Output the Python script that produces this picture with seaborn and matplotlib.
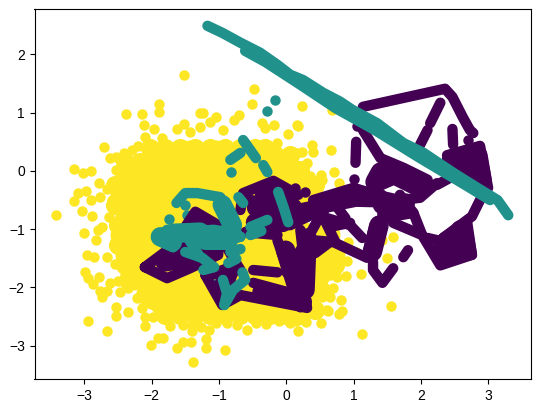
import matplotlib
matplotlib.use("Agg")
from matplotlib import pyplot as plt
import seaborn as sns
import pandas as pd

# colours of the three classes (viridis 0, 0.5, 1)
YELLOW = "#fde725"
TEAL = "#21918c"
PURPLE = "#440154"

# scattered yellow points
yellow_x = [-1.89, -1.89, -2.38, -2.15, -2.12, -1.96, -1.62, -1.52, -1.28, -1.52, -2.70, -3.15, -3.02, -2.90, -2.78,
            -2.97, -3.09, -3.16, -3.03, -3.42, -2.88, -2.90, -2.76, -2.62, -2.53, -2.41, -2.29, -2.20, -2.10, -1.84,
            -1.83, -1.63, -2.53, -2.66, -2.59, -2.63, -2.73, -1.43, -3.00, -2.79, -2.82, -2.96, -2.85, -2.67, -2.54,
            -2.99, -2.94, -2.78, -2.87, -2.62, -2.50, -2.76, -2.66, -2.73, -2.47, -2.35, -2.21, -2.53, -2.14, -2.35,
            -2.53, -2.94, -2.10, -1.98, -2.10, -2.67, -1.72, -1.53, -1.40, -1.40, -1.90, -1.83, -2.01, -1.63, -1.53,
            -1.41, -1.38, -1.19, -1.19, -0.91, -1.26, -1.14, -1.04, -0.88, -0.73, -0.58, -0.45, -0.30, -0.10, 0.06,
            0.15, 0.18, 0.30, 0.52, 0.61, -1.23, -1.04, -1.13, -0.70, -0.77, -0.51, -0.48, -0.36, -0.18, -0.31,
            0.16, 0.03, -1.28, -0.94, -0.13, -0.24, 0.04, 0.16, 0.01, 0.13, -0.04, 0.24, 0.68, 0.18, 0.39,
            0.40, 0.67, 0.24, 0.31, 0.13, 0.71, 0.51, 0.53, 0.36, 0.79, 0.24, -0.01, 1.43, 1.59, 1.50,
            1.11, 0.91, 0.92, 1.03, 0.89, 0.76, 0.55, 0.65, 0.70, 0.82, 0.65, 0.53, 0.40, 1.56, 0.83,
            0.79, 0.62, 1.13, 0.33, 0.68, 0.68, 0.40, 0.39, 0.51]
yellow_y = [1.15, 1.01, 0.98, 0.98, 0.79, 0.72, 0.72, 0.81, 1.00, 1.65, 0.41, 0.03, -0.03, 0.00, -0.21,
            -0.34, -0.38, -0.52, -0.69, -0.76, -0.77, -0.50, -0.45, 0.22, 0.24, 0.31, 0.36, 0.43, 0.58, 0.57,
            0.33, 0.31, 0.02, -0.31, -0.50, -0.79, -0.96, 0.67, -1.07, -1.01, -1.19, -1.44, -1.48, -1.48, -1.60,
            -1.74, -1.84, -1.82, -1.94, -1.92, -1.89, -2.06, -2.06, -2.16, -2.08, -2.01, -2.18, -2.34, -2.35, -2.42,
            -2.49, -2.58, -2.51, -2.51, -2.66, -2.75, -2.66, -2.65, -2.65, -2.75, -2.87, -2.87, -2.99, -3.04, -2.94,
            -2.94, -3.28, -2.89, -3.04, -3.08, -2.68, -2.73, -2.61, -2.61, -2.65, -2.73, -2.61, -2.63, -2.58, -2.61,
            -2.58, -2.75, -2.59, -2.61, -2.39, 1.00, 0.93, 0.84, 0.96, 0.88, 1.15, 1.41, 0.82, 0.79, 0.74,
            0.79, 0.64, 0.76, 0.70, 0.48, 0.41, 0.33, 0.31, 0.22, 0.10, 0.10, 1.12, 1.05, 0.77, 0.45,
            0.33, 0.36, 0.33, 0.14, -0.02, -0.02, -0.07, -0.15, -0.09, -0.21, -0.19, -0.12, -1.19, -1.13, -1.49,
            -1.77, -1.55, -1.22, -1.39, -1.80, -1.82, -1.86, -1.79, -2.01, -2.22, -2.16, -2.16, -2.18, -2.32, -2.41,
            -2.46, -2.41, -2.80, -2.44, -1.49, -1.36, -1.82, -2.01, -1.62]

# middle of the yellow cloud, where single points can't be told apart
core_x = [-1.80, -1.43, -1.05, -0.68, -0.36,
          -2.32, -1.95, -1.58, -1.20, -0.83, -0.46, -0.09,
          -2.39, -2.02, -1.65, -1.28, -0.91, -0.53, -0.16, 0.21,
          -2.32, -1.95, -1.58, -1.20, -0.83, -0.46, -0.09,
          -2.39, -2.02, -1.65, -1.28, -0.91, -0.53, -0.16, 0.21, 0.58,
          -2.32, -1.95, -1.58, -1.20, -0.83, -0.46, -0.09, 0.28, 0.65,
          -2.24, -1.87, -1.50, -1.13, -0.76, -0.39, -0.02, 0.35,
          -1.95, -1.58, -1.20, -0.83, -0.46, -0.09, 0.28,
          -1.72, -1.35, -0.98, -0.61, -0.24, 0.13]
core_y = [0.27, 0.27, 0.27, 0.27, 0.27,
          -0.07, -0.07, -0.07, -0.07, -0.07, -0.07, -0.07,
          -0.41, -0.41, -0.41, -0.41, -0.41, -0.41, -0.41, -0.41,
          -0.76, -0.76, -0.76, -0.76, -0.76, -0.76, -0.76,
          -1.10, -1.10, -1.10, -1.10, -1.10, -1.10, -1.10, -1.10, -1.10,
          -1.44, -1.44, -1.44, -1.44, -1.44, -1.44, -1.44, -1.44, -1.44,
          -1.79, -1.79, -1.79, -1.79, -1.79, -1.79, -1.79, -1.79,
          -2.13, -2.13, -2.13, -2.13, -2.13, -2.13, -2.13,
          -2.27, -2.27, -2.27, -2.27, -2.27, -2.27]

# edge of the yellow cloud, still too crowded for single points
fringe_x = [-2.02, -1.80, -1.58, -1.35, -1.13, -0.91, -0.68, -0.46, -0.31,
            -2.39, -2.17, -2.02, -0.16, 0.06, 0.06, 0.21, 0.21, 0.43,
            -2.54, -2.54, -2.50, -2.50, -2.39, -2.35, -2.10, -1.87,
            -1.80, -1.58, -1.35, -1.13, -0.91, -0.68, -0.46, -0.24, -0.01, 0.21,
            0.73, 0.51, 0.51, 0.73, 0.43, 0.65]
fringe_y = [0.40, 0.40, 0.40, 0.40, 0.40, 0.40, 0.40, 0.40, 0.40,
            0.15, 0.15, 0.15, 0.27, 0.27, 0.02, 0.02, -0.24, -0.24,
            -0.24, -0.58, -0.93, -1.27, -1.62, -1.87, -2.13, -2.30,
            -2.47, -2.47, -2.47, -2.47, -2.47, -2.47, -2.47, -2.47, -2.47, -2.47,
            -1.62, -2.04, -1.79, -1.44, -2.39, -1.62]

# purple: lone points plus the unbroken trails
purple_dots = [(1.05, 0.77), (1.01, -0.14), (0.13, -0.29), (0.28, -0.36), (2.70, 0.53)]
purple_trails = [
    [(1.14, 1.10), (2.36, 1.41), (2.47, 1.27), (2.62, 0.93), (2.73, 0.70), (2.78, 0.65)],
    [(2.29, 1.17), (2.14, 0.82)],
    [(2.10, 0.70), (1.99, 0.45)],
    [(2.47, 0.72), (2.48, 0.45)],
    [(1.04, 0.50), (1.03, 0.14)],
    [(1.14, 0.70), (1.40, 0.22), (1.75, 0.05), (2.10, -0.15), (1.95, -0.35), (1.60, -0.15), (1.30, -0.30)],
    [(2.39, 0.27), (2.88, 0.43), (3.00, -0.29), (2.66, -0.02), (2.39, 0.19), (2.85, 0.19), (2.91, -0.12)],
    [(2.24, -0.24), (2.51, -0.07)],
    [(0.40, -0.50), (1.00, -0.29), (1.35, -0.41), (1.69, -0.50), (1.99, -0.46), (2.24, -0.21)],
    [(0.28, -0.67), (0.65, -0.50), (1.03, -0.46)],
    [(0.55, -0.79), (0.95, -0.93), (1.13, -1.15)],
    [(0.73, -0.58), (0.88, -0.81)],
    [(1.43, -0.50), (1.43, -0.84), (1.25, -1.48)],
    [(1.31, -0.93), (1.22, -1.36)],
    [(1.20, -1.49), (0.70, -1.22), (0.40, -1.19)],
    [(1.29, -1.56), (1.29, -1.70), (1.43, -1.92), (1.59, -1.67)],
    [(1.74, -1.48), (1.81, -1.36)],
    [(1.59, -0.89), (2.02, -1.10), (2.29, -1.62), (2.76, -1.44), (2.69, -0.89), (2.33, -1.15)],
    [(1.44, -0.81), (1.89, -0.72), (2.02, -1.10)],
    [(1.69, -0.41), (1.89, -0.72)],
    [(2.10, -1.15), (2.66, -1.30), (2.44, -1.49), (2.76, -1.44), (2.70, -1.05)],
    [(2.33, -1.15), (2.76, -0.78), (2.88, -0.50)],
    [(-2.10, -1.65), (-1.80, -1.39), (-1.58, -1.10), (-1.35, -0.70), (-1.01, -0.93), (-1.01, -1.44), (-1.43, -1.67),
     (-1.77, -1.84), (-2.10, -1.65)],
    [(-1.80, -1.62), (-1.28, -1.56), (-1.05, -1.27), (-1.35, -1.10), (-1.72, -1.49)],
    [(-1.20, -1.79), (-0.95, -2.30), (-0.68, -2.13), (0.31, -2.35), (0.28, -2.16), (-0.49, -1.92)],
    [(-1.20, -1.79), (-0.68, -1.70), (-0.95, -1.19)],
    [(-0.83, -1.87), (-0.95, -1.70)],
    [(-0.49, -1.70), (-0.13, -1.74)],
    [(-0.13, -1.19), (0.21, -2.34)],
    [(0.21, -1.65), (0.24, -2.22)],
    [(0.01, -1.75), (0.36, -1.07), (0.61, -0.55)],
    [(0.31, -0.79), (0.65, -0.45)],
    [(-0.68, -0.67), (-0.64, -0.38), (-0.19, -0.17), (0.18, -0.41)],
    [(-0.53, -0.50), (-0.09, -0.58), (-0.31, -0.93), (-0.61, -1.05), (-0.13, -1.10)],
    [(-0.19, -0.93), (0.06, -0.93), (0.31, -0.79)],
    [(0.21, -1.01), (0.25, -1.41)],
    [(0.43, -1.41), (0.65, -1.22)],
    [(0.55, -0.79), (0.73, -1.22)],
    [(0.65, -0.96), (0.95, -0.89)],
]
# places where many purple trails lie side by side
purple_bands = [
    [(-1.80, -1.56), (-1.20, -1.44)],
    [(-1.32, -0.93), (-1.17, -1.36)],
    [(-0.95, -2.04), (-0.86, -1.74)],
    [(-0.36, -2.08), (0.24, -2.25)],
    [(-0.01, -1.36), (0.21, -2.18)],
    [(0.31, -1.15), (0.28, -2.04)],
    [(-0.45, -0.62), (0.09, -0.62)],
    [(-0.33, -0.41), (-0.01, -0.41)],
    [(-0.46, -0.88), (-0.06, -0.88)],
    [(0.10, -0.75), (0.50, -0.65)],
    [(0.51, -0.57), (1.03, -0.45), (1.37, -0.46)],
    [(1.58, -0.02), (2.07, -0.26)],
    [(1.40, -0.02), (1.32, -0.19)],
    [(1.77, -0.55), (1.43, -0.58)],
    [(2.32, -1.36), (2.66, -1.24)],
    [(2.59, -1.01), (2.63, -1.32)],
    [(2.54, 0.19), (2.85, 0.26), (2.91, -0.15)],
    [(2.66, 0.02), (2.85, -0.02)],
    [(1.38, -0.93), (1.28, -1.39)],
]

# teal: the long diagonal and the cluster around (-1, -1)
teal_dots = [(-0.16, 1.22), (-0.28, 1.03), (-0.82, -0.02), (-1.50, -0.58), (-1.74, -0.82), (-1.47, -0.76),
             (-0.40, -0.60), (-0.18, -0.72), (-1.08, -1.94)]
teal_trails = [
    [(-1.17, 2.49), (-0.95, 2.37), (-0.68, 2.20), (-0.39, 2.03), (-0.13, 1.82), (0.06, 1.65), (0.25, 1.56), (0.55, 1.34),
     (0.80, 1.19), (0.98, 1.05), (1.35, 0.82), (1.74, 0.48), (2.04, 0.31), (2.48, -0.03), (2.84, -0.29), (3.14, -0.50),
     (3.30, -0.76)],
    [(-0.61, 2.06), (-0.31, 1.87), (0.21, 1.48), (0.73, 1.08), (1.32, 0.70), (1.99, 0.22), (2.66, -0.24), (3.03, -0.50)],
    [(-0.64, 0.53), (-0.45, 0.22)],
    [(-0.34, 0.10), (-0.28, -0.02)],
    [(-0.83, 0.19), (-0.68, 0.31)],
    [(-1.63, -0.55), (-1.50, -0.38), (-1.32, -0.38), (-0.98, -0.45), (-0.88, -0.62), (-0.83, -0.89)],
    [(-0.71, -0.45), (-0.64, -0.55)],
    [(-1.87, -1.13), (-1.77, -1.01), (-1.68, -1.31), (-1.87, -1.20)],
    [(-1.55, -1.05), (-1.08, -1.01), (-0.73, -1.07)],
    [(-1.50, -1.39), (-1.25, -1.49), (-1.08, -1.65)],
    [(-1.46, -1.15), (-1.28, -1.48)],
    [(-1.17, -1.27), (-0.68, -1.13)],
    [(-1.23, -1.70), (-1.07, -1.65)],
    [(-0.83, -1.39), (-0.68, -1.34)],
    [(-0.86, -1.58), (-0.74, -1.51)],
    [(-0.53, -0.96), (-0.28, -0.84)],
    [(-0.53, -1.10), (-0.37, -1.03)],
    [(-0.12, -0.36), (-0.04, -0.62), (0.03, -0.88)],
    [(-0.65, -1.74), (-0.61, -1.87), (-0.79, -2.04), (-0.92, -2.30)],
    [(-0.94, -1.87), (-0.88, -2.10), (-0.92, -2.30)],
    [(-0.91, -0.76), (-0.76, -0.93), (-0.83, -1.19), (-1.05, -1.19), (-0.68, -1.13)],
]
teal_bands = [
    [(-0.95, -0.58), (-0.80, -0.93), (-0.86, -1.19), (-1.20, -1.19)],
    [(-1.87, -1.13), (-1.69, -1.22)],
    [(-1.69, -1.07), (-1.28, -1.05)],
]

x_ticks = [-3, -2, -1, 0, 1, 2, 3]
y_ticks = [-3, -2, -1, 0, 1, 2]


def draw_trails(ax, trails, color, width=7.5):
    rows = [(i, x, y) for i, trail in enumerate(trails) for x, y in trail]
    df = pd.DataFrame(rows, columns=["trail", "x", "y"])
    sns.lineplot(data=df, x="x", y="y", units="trail", estimator=None, sort=False, ax=ax, color=color,
                 linewidth=width, solid_capstyle="round", solid_joinstyle="round", legend=False)


def draw_dots(ax, xs, ys, color, size=36):
    sns.scatterplot(x=xs, y=ys, ax=ax, color=color, s=size, linewidth=1.5, edgecolor=color, legend=False)


plt.rcParams["font.family"] = ["Liberation Sans", "DejaVu Sans"]

fig, ax = plt.subplots(figsize=(5.39, 4.11), dpi=100)
fig.subplots_adjust(left=34.5 / 539, right=530.5 / 539, top=1 - 9.5 / 411, bottom=1 - 379 / 411)

draw_dots(ax, core_x, core_y, YELLOW, size=400)
draw_dots(ax, fringe_x, fringe_y, YELLOW, size=150)
draw_dots(ax, yellow_x, yellow_y, YELLOW)
draw_trails(ax, purple_trails, PURPLE)
draw_trails(ax, purple_bands, PURPLE, width=14)
draw_dots(ax, [p[0] for p in purple_dots], [p[1] for p in purple_dots], PURPLE)
draw_trails(ax, teal_trails, TEAL)
draw_trails(ax, teal_bands, TEAL, width=14)
draw_dots(ax, [p[0] for p in teal_dots], [p[1] for p in teal_dots], TEAL)

ax.set_xlim(-3.74, 3.63)
ax.set_ylim(-3.57, 2.77)
ax.set_xticks(x_ticks)
ax.set_yticks(y_ticks)
ax.set_xlabel("")
ax.set_ylabel("")
ax.tick_params(labelsize=10)

plt.savefig("out.png", dpi=100)
